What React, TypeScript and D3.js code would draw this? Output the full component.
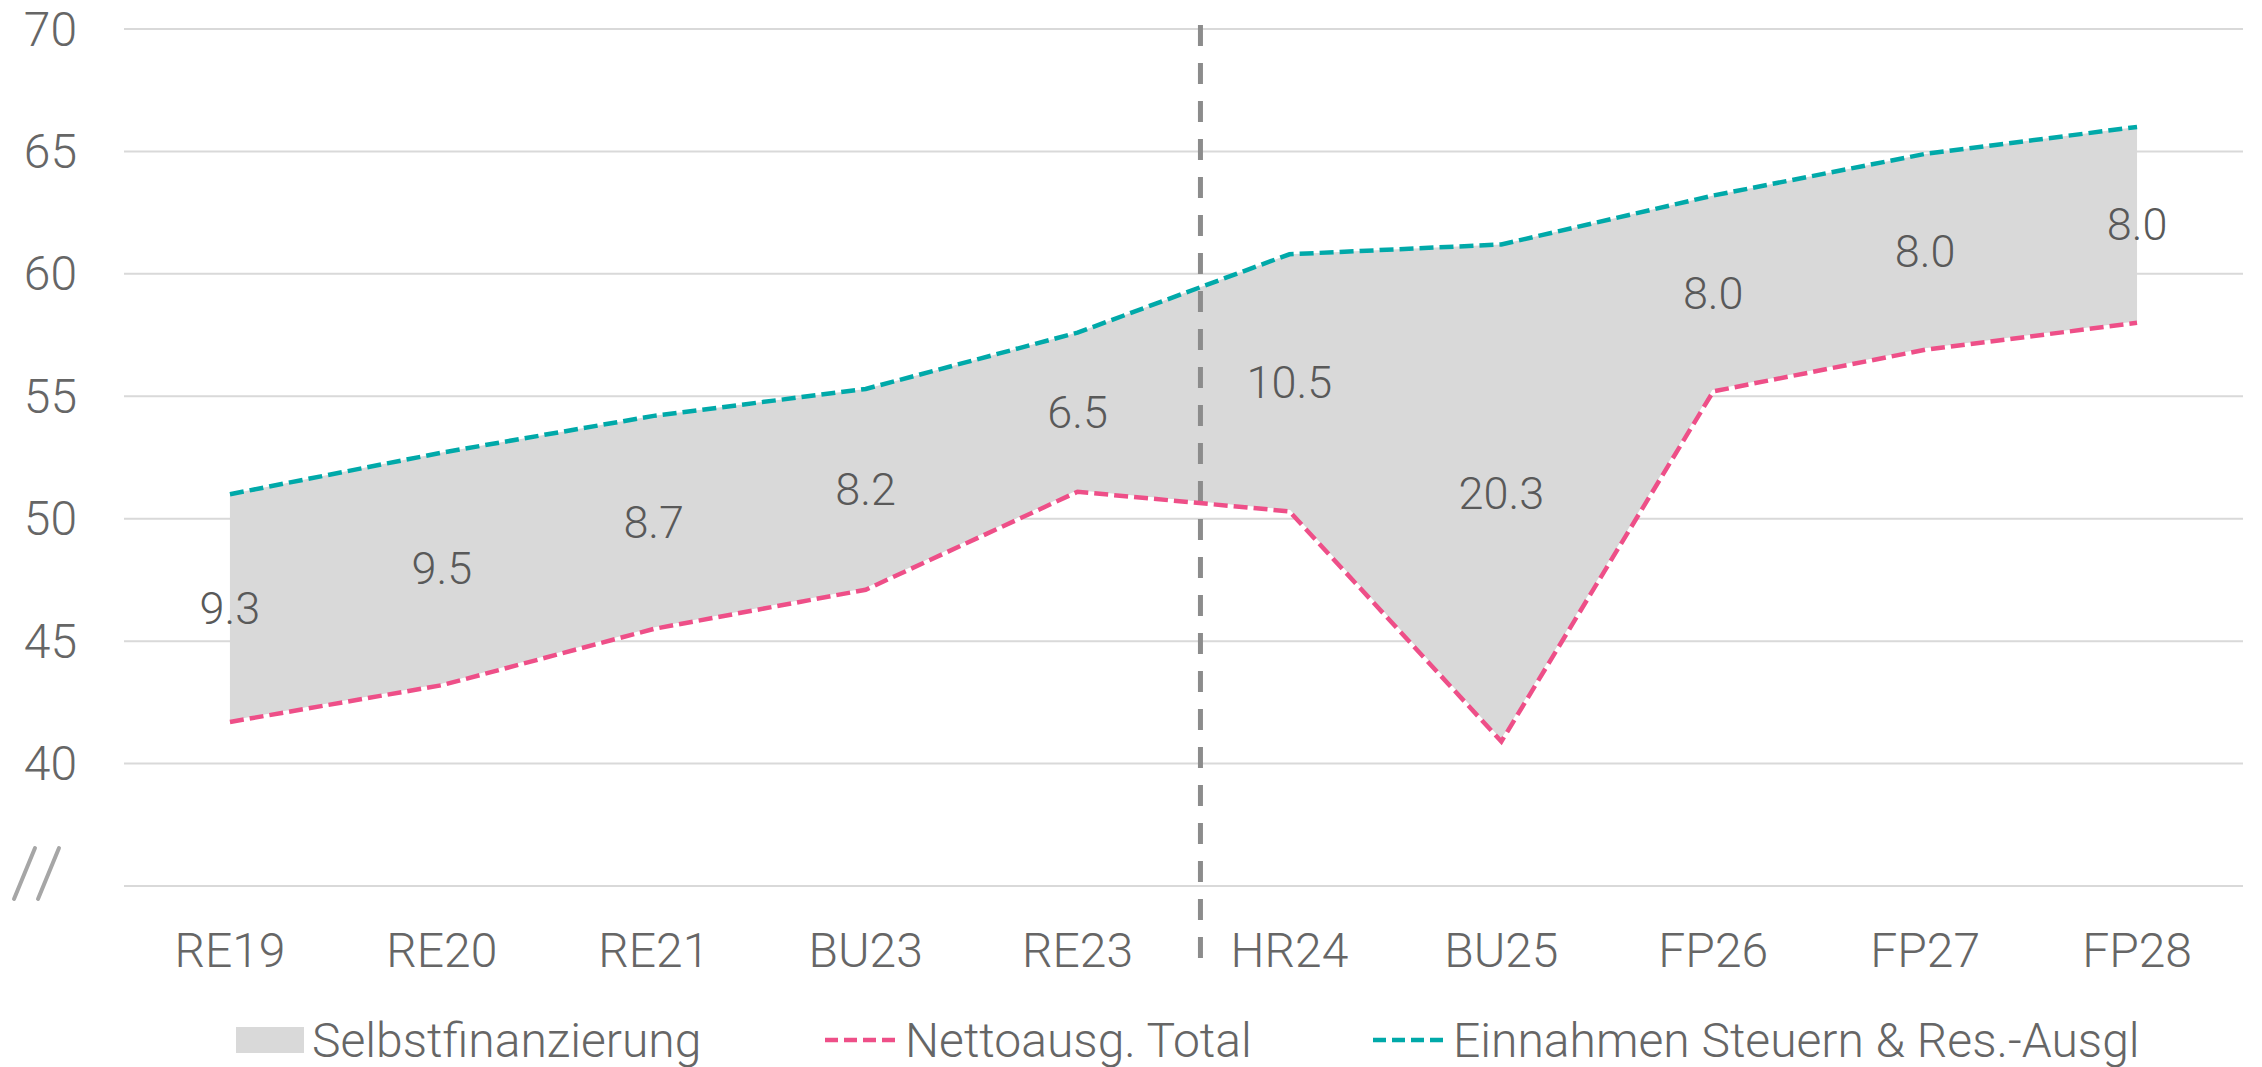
import React from "react";
import * as d3 from "d3";

const categories = ["RE19", "RE20", "RE21", "BU23", "RE23", "HR24", "BU25", "FP26", "FP27", "FP28"];
const nettoausg = [41.7, 43.2, 45.5, 47.1, 51.1, 50.3, 40.9, 55.2, 56.9, 58.0];
const einnahmen = [51.0, 52.7, 54.2, 55.3, 57.6, 60.8, 61.2, 63.2, 64.9, 66.0];
const selbstLabels = ["9.3", "9.5", "8.7", "8.2", "6.5", "10.5", "20.3", "8.0", "8.0", "8.0"];
const yTicks = [35, 40, 45, 50, 55, 60, 65, 70];
const yTickLabels = ["", "40", "45", "50", "55", "60", "65", "70"];
const legendLabels = ["Selbstfinanzierung", "Nettoausg. Total", "Einnahmen Steuern & Res.-Ausgl"];
const dividerPosition = 4.58; // between RE23 and HR24, in category index units

const W = 2262;
const H = 1067;
const PINK = "#EE4F88";
const TEAL = "#00A9A9";
const AREA = "#D9D9D9";
const GRID = "#D9D9D9";
const TEXT = "#666666";
const LABEL = "#595959";
const FONT = "Roboto, 'Noto Sans', sans-serif";

export default function App() {
  const x = d3.scalePoint<string>().domain(categories).range([124, 2243]).padding(0.5);
  const y = d3.scaleLinear().domain([35, 70]).range([886, 29]);
  const step = x.step();
  const xi = (i: number) => (x(categories[0]) as number) + i * step;

  const idx = categories.map((_, i) => i);
  const area = d3
    .area<number>()
    .x((i) => xi(i))
    .y0((i) => y(nettoausg[i]))
    .y1((i) => y(einnahmen[i]));
  const lineN = d3.line<number>().x((i) => xi(i)).y((i) => y(nettoausg[i]));
  const lineE = d3.line<number>().x((i) => xi(i)).y((i) => y(einnahmen[i]));

  const divX = xi(dividerPosition);
  const dash = "14 6";

  const legendY = 1040;

  return (
    <svg
      width={W}
      height={H}
      style={{ position: "absolute", left: 0, top: 0, background: "#fff" }}
      fontFamily={FONT}
    >
      {/* gridlines */}
      {yTicks.map((t) => (
        <line key={t} x1={124} x2={2243} y1={y(t)} y2={y(t)} stroke={GRID} strokeWidth={2} />
      ))}
      {/* y labels */}
      {yTicks.map((t, i) =>
        yTickLabels[i] ? (
          <text
            key={"yl" + t}
            x={77}
            y={y(t)}
            textAnchor="end"
            dominantBaseline="central"
            fontSize={48}
            fill={TEXT}
            fontWeight={300}
          >
            {yTickLabels[i]}
          </text>
        ) : null
      )}
      {/* axis break symbol */}
      <g stroke="#A6A6A6" strokeWidth={4} strokeLinecap="round">
        <line x1={35} y1={848} x2={14} y2={899} />
        <line x1={59} y1={848} x2={38} y2={899} />
      </g>
      {/* area */}
      <path d={area(idx) as string} fill={AREA} />
      {/* divider */}
      <line x1={divX} x2={divX} y1={25} y2={958} stroke="#8C8C8C" strokeWidth={5} strokeDasharray="21 17" />
      {/* lines */}
      <path d={lineN(idx) as string} fill="none" stroke="#fff" strokeWidth={3} />
      <path d={lineN(idx) as string} fill="none" stroke={PINK} strokeWidth={4.5} strokeDasharray={dash} />
      <path d={lineE(idx) as string} fill="none" stroke={TEAL} strokeWidth={4.5} strokeDasharray={dash} />
      {/* data labels */}
      {categories.map((c, i) => (
        <text
          key={"dl" + c}
          x={xi(i)}
          y={y((nettoausg[i] + einnahmen[i]) / 2)}
          textAnchor="middle"
          dominantBaseline="central"
          fontSize={45}
          fill={LABEL}
          fontWeight={300}
        >
          {selbstLabels[i]}
        </text>
      ))}
      {/* x labels */}
      {categories.map((c) => (
        <text
          key={"xl" + c}
          x={x(c) as number}
          y={950}
          textAnchor="middle"
          dominantBaseline="central"
          fontSize={48}
          fill={TEXT}
          fontWeight={300}
        >
          {c}
        </text>
      ))}
      {/* legend */}
      <rect x={236} y={1027} width={68} height={26} fill={AREA} />
      <text x={312} y={legendY} dominantBaseline="central" fontSize={48} fill={TEXT} fontWeight={300}>
        {legendLabels[0]}
      </text>
      <line x1={825} x2={899} y1={legendY} y2={legendY} stroke={PINK} strokeWidth={4.5} strokeDasharray="13 6" />
      <text x={905} y={legendY} dominantBaseline="central" fontSize={48} fill={TEXT} fontWeight={300}>
        {legendLabels[1]}
      </text>
      <line x1={1373} x2={1447} y1={legendY} y2={legendY} stroke={TEAL} strokeWidth={4.5} strokeDasharray="13 6" />
      <text x={1453} y={legendY} dominantBaseline="central" fontSize={48} fill={TEXT} fontWeight={300}>
        {legendLabels[2]}
      </text>
    </svg>
  );
}
